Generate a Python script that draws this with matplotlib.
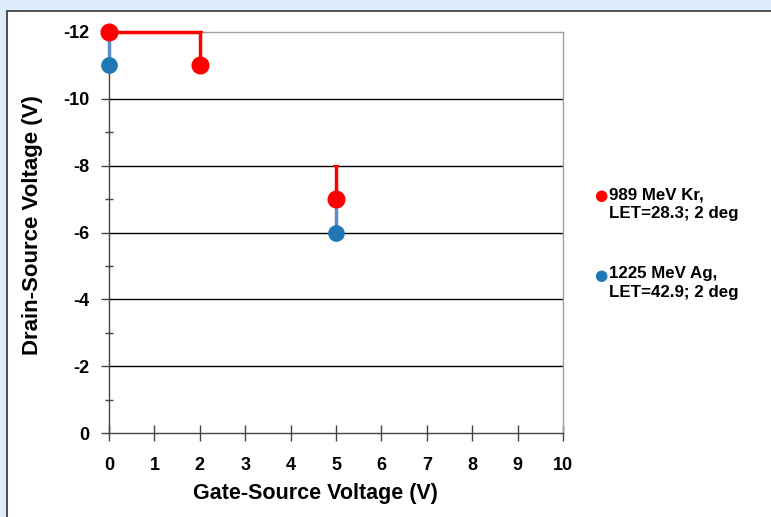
import matplotlib
matplotlib.use("Agg")
import matplotlib.pyplot as plt
from matplotlib.patches import Rectangle
from matplotlib.ticker import MultipleLocator

plt.rcParams["axes.unicode_minus"] = False

# Data
kr_x = [0, 2, 5]
kr_y = [-12, -11, -7]
kr_err = [0, 1, 1]          # vertical bar extent toward more negative voltage
kr_bound_x = [0, 2]
kr_bound_y = [-12, -12]
ag_x = [0, 5]
ag_y = [-11, -6]
ag_err = [1, 1]
kr_label = "989 MeV Kr,\nLET=28.3; 2 deg"
ag_label = "1225 MeV Ag,\nLET=42.9; 2 deg"
x_ticks = list(range(0, 11))
y_ticks = [0, -2, -4, -6, -8, -10, -12]

red = "#ff0000"
blue = "#1f77b4"
blue_line = "#5b8ec9"

fam = ["Liberation Sans", "DejaVu Sans"]

fig = plt.figure(figsize=(7.71, 5.17), dpi=100)
fig.patch.set_facecolor("#deedfb")
# white inner panel
panel = Rectangle((7 / 771, -0.1), 1.2, (517 - 11) / 517 + 0.1, transform=fig.transFigure,
                  facecolor="white", edgecolor="#333333", linewidth=1.2, zorder=-10)
fig.patches.append(panel)

ax = fig.add_axes([109 / 771, 84 / 517, 454 / 771, 401 / 517])
ax.set_zorder(5)
ax.set_facecolor("none")
ax.set_xlim(0, 10)
ax.set_ylim(0, -12)

for v in y_ticks[1:-1]:
    ax.axhline(v, color="black", linewidth=1.0, zorder=1)

ax.spines["top"].set_color("#a0a0a0")
ax.spines["right"].set_color("#a0a0a0")
ax.spines["left"].set_color("#444444")
ax.spines["bottom"].set_color("#444444")
for s in ax.spines.values():
    s.set_linewidth(1.0)

# Ag series (blue)
ax.errorbar(ag_x, ag_y, yerr=[ag_err, [0] * len(ag_y)], fmt="o", color=blue,
            ecolor=blue_line, elinewidth=2.5, capsize=0, markersize=11, zorder=3,
            clip_on=False)
# Kr series (red)
ax.plot(kr_bound_x, kr_bound_y, color=red, linewidth=2.5, zorder=4, clip_on=False)
ax.errorbar(kr_x, kr_y, yerr=[kr_err, [0] * len(kr_y)], fmt="o", color=red,
            ecolor=red, elinewidth=2.5, capsize=2, capthick=1.5, markersize=12,
            zorder=5, clip_on=False)

ax.set_xticks(x_ticks)
ax.set_yticks(y_ticks)
ax.yaxis.set_minor_locator(MultipleLocator(1))
ax.tick_params(axis="x", which="major", direction="inout", length=12, width=1,
               color="#444444", pad=11)
ax.tick_params(axis="y", which="major", direction="out", length=6, width=1,
               color="#444444", pad=8)
ax.tick_params(axis="y", which="minor", direction="inout", length=6, width=1,
               color="#444444")
for lab in ax.get_xticklabels() + ax.get_yticklabels():
    lab.set_family(fam)
    lab.set_fontweight("bold")
    lab.set_fontsize(13)

ax.set_xlabel("Gate-Source Voltage (V)", family=fam, fontweight="bold", fontsize=15.5)
ax.xaxis.set_label_coords((315 - 109) / 454, (433 - 494) / 401)
ax.xaxis.label.set_va("center")
ax.set_ylabel("Drain-Source Voltage (V)", family=fam, fontweight="bold", fontsize=16)
ax.yaxis.set_label_coords((33 - 109) / 454, (433 - 225) / 401)
ax.yaxis.label.set_va("center")

# Legend (manual)
fig.text(601 / 771, 1 - 196 / 517, "\u25CF", color=red, fontsize=11, ha="center",
         va="center", family="DejaVu Sans")
fig.text(609 / 771, 1 - 187 / 517, kr_label, fontsize=12.2, fontweight="bold",
         family=fam, va="top", ha="left", linespacing=1.3)
fig.text(601 / 771, 1 - 275 / 517, "\u25CF", color=blue, fontsize=11, ha="center",
         va="center", family="DejaVu Sans")
fig.text(609 / 771, 1 - 266 / 517, ag_label, fontsize=12.2, fontweight="bold",
         family=fam, va="top", ha="left", linespacing=1.3)

fig.savefig("out.png", dpi=100, facecolor=fig.get_facecolor())
